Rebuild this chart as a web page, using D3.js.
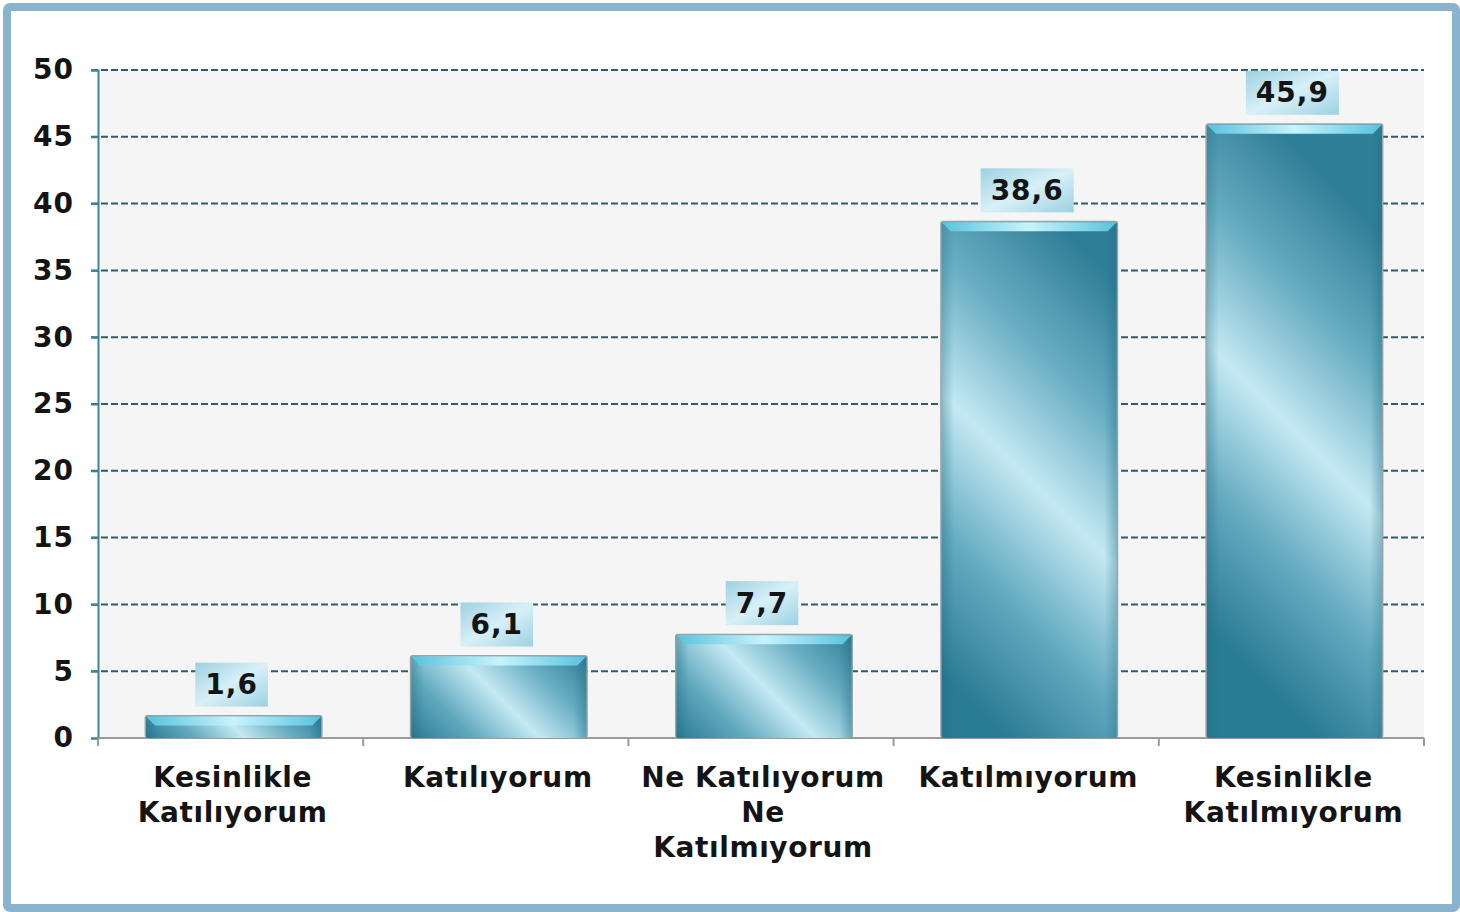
<!DOCTYPE html>
<html>
<head>
<meta charset="utf-8">
<script src="https://cdn.jsdelivr.net/npm/d3@7"></script>
<style>
  html, body { margin: 0; padding: 0; background: #fff; }
  svg { display: block; }
  text { font-family: 'DejaVu Sans', Verdana, sans-serif; font-weight: bold; fill: #141414; }
</style>
</head>
<body>
<div id="chart"></div>
<script>
// data
const categories = [
  ['Kesinlikle', 'Katılıyorum'],
  ['Katılıyorum'],
  ['Ne Katılıyorum', 'Ne', 'Katılmıyorum'],
  ['Katılmıyorum'],
  ['Kesinlikle', 'Katılmıyorum']
]
const values = [1.6, 6.1, 7.7, 38.6, 45.9]
const yTicks = [0, 5, 10, 15, 20, 25, 30, 35, 40, 45, 50]

const W = 1460, H = 912
const m = {left: 98, right: 1424, top: 70, bottom: 738}

const svg = d3.select('#chart').append('svg')
  .attr('width', W)
  .attr('height', H)

let defs = svg.append('defs')

let side = defs.append('linearGradient').attr('id', 'sideGrad')
  .attr('x1', '0%').attr('x2', '100%')
side.append('stop').attr('offset', '0%').attr('stop-color', '#1f6b80').attr('stop-opacity', 0.35)
side.append('stop').attr('offset', '7%').attr('stop-color', '#1f6b80').attr('stop-opacity', 0)
side.append('stop').attr('offset', '93%').attr('stop-color', '#1f6b80').attr('stop-opacity', 0)
side.append('stop').attr('offset', '100%').attr('stop-color', '#1f6b80').attr('stop-opacity', 0.35)

let bevel = defs.append('linearGradient').attr('id', 'topGrad')
  .attr('x1', '0%').attr('x2', '100%')
bevel.append('stop').attr('offset', '0%').attr('stop-color', '#58c3de')
bevel.append('stop').attr('offset', '50%').attr('stop-color', '#c8f3fd')
bevel.append('stop').attr('offset', '100%').attr('stop-color', '#58c3de')

let lab = defs.append('linearGradient').attr('id', 'labGrad')
  .attr('x1', '0%').attr('y1', '0%').attr('x2', '100%').attr('y2', '100%')
lab.append('stop').attr('offset', '0%').attr('stop-color', '#9dd1e2')
lab.append('stop').attr('offset', '50%').attr('stop-color', '#d8f0f7')
lab.append('stop').attr('offset', '100%').attr('stop-color', '#9dd1e2')

// outer frame
svg.append('rect')
  .attr('x', 7).attr('y', 7).attr('width', W - 11).attr('height', H - 11)
  .attr('rx', 3)
  .attr('fill', '#fff').attr('stroke', '#8ab3cf').attr('stroke-width', 8)

let x = d3.scaleBand().domain(d3.range(categories.length)).range([m.left, m.right])
let y = d3.scaleLinear().domain([0, 50]).range([m.bottom, m.top])

// plot bg
svg.append('rect')
  .attr('x', m.left).attr('y', m.top)
  .attr('width', m.right - m.left).attr('height', m.bottom - m.top)
  .attr('fill', '#f5f5f5')

// grid
svg.append('g').selectAll('line')
  .data(yTicks.filter(d => d > 0))
  .enter().append('line')
  .attr('x1', m.left - 7).attr('x2', m.right)
  .attr('y1', d => y(d)).attr('y2', d => y(d))
  .attr('stroke', '#2d5d6c').attr('stroke-width', 2)
  .attr('stroke-dasharray', '7,3')

// y axis
let yAxis = svg.append('g')
  .attr('transform', `translate(${m.left},0)`)
  .call(d3.axisLeft(y).tickValues(yTicks).tickSize(7).tickPadding(17))
yAxis.select('.domain').attr('stroke', '#3a8597').attr('stroke-width', 2)
yAxis.selectAll('.tick line').attr('stroke', '#3a8597').attr('stroke-width', 2)
yAxis.selectAll('text')
  .attr('font-size', 28)
  .attr('letter-spacing', 1)
  .attr('font-family', "'DejaVu Sans', Verdana, sans-serif")
  .attr('font-weight', 'bold')
  .attr('fill', '#141414')

// x axis
let xAxisG = svg.append('g')
xAxisG.append('line')
  .attr('x1', m.left).attr('x2', m.right)
  .attr('y1', m.bottom).attr('y2', m.bottom)
  .attr('stroke', '#9a9a9a').attr('stroke-width', 2)
xAxisG.selectAll('.xt')
  .data(d3.range(categories.length + 1))
  .enter().append('line')
  .attr('x1', d => m.left + d * x.step()).attr('x2', d => m.left + d * x.step())
  .attr('y1', m.bottom).attr('y2', m.bottom + 8)
  .attr('stroke', '#9a9a9a').attr('stroke-width', 2)

let bw = x.bandwidth() * 0.66
let bx = i => x(i) + (x.bandwidth() - bw) / 2 + 3

// one diagonal gradient per bar, 45 degrees in user space
values.forEach((d, i) => {
  let x0 = bx(i), y0 = y(d), h = m.bottom - y0
  let cx = x0 + bw / 2, cy = y0 + h / 2
  let L = Math.min(200, (bw + h) / 2 / Math.SQRT2)
  let k = L / Math.SQRT2
  let g = defs.append('linearGradient').attr('id', 'barGrad' + i)
    .attr('gradientUnits', 'userSpaceOnUse')
    .attr('x1', cx - k).attr('y1', cy + k)
    .attr('x2', cx + k).attr('y2', cy - k)
  g.append('stop').attr('offset', '0%').attr('stop-color', '#2a7b94')
  g.append('stop').attr('offset', '25%').attr('stop-color', '#62a9bf')
  g.append('stop').attr('offset', '50%').attr('stop-color', '#c4e9f3')
  g.append('stop').attr('offset', '75%').attr('stop-color', '#68adc2')
  g.append('stop').attr('offset', '100%').attr('stop-color', '#307f98')
})

let bars = svg.append('g').selectAll('.bar')
  .data(values)
  .enter().append('g')
  .attr('class', 'bar')

bars.append('rect')
  .attr('x', (d, i) => bx(i) - 1.5)
  .attr('y', d => y(d) - 1.5)
  .attr('width', bw + 3)
  .attr('height', d => m.bottom - y(d) + 1.5)
  .attr('rx', 3)
  .attr('fill', '#98a4a8')
bars.append('rect')
  .attr('x', (d, i) => bx(i))
  .attr('y', d => y(d))
  .attr('width', bw)
  .attr('height', d => m.bottom - y(d))
  .attr('rx', 2)
  .attr('fill', (d, i) => `url(#barGrad${i})`)
bars.append('rect')
  .attr('x', (d, i) => bx(i))
  .attr('y', d => y(d))
  .attr('width', bw)
  .attr('height', d => m.bottom - y(d))
  .attr('fill', 'url(#sideGrad)')
bars.append('path')
  .attr('d', (d, i) => {
    let x0 = bx(i), y0 = y(d)
    let h = Math.min(9, (m.bottom - y0) * 0.5)
    return `M${x0},${y0}L${x0 + bw},${y0}L${x0 + bw - h},${y0 + h}L${x0 + h},${y0 + h}Z`
  })
  .attr('fill', 'url(#topGrad)')

// value labels
bars.each(function (d, i) {
  let g = d3.select(this)
  let cx = x(i) + x.bandwidth() / 2 + 1
  let t = g.append('text')
    .attr('x', cx).attr('y', y(d) - 32)
    .attr('text-anchor', 'middle')
    .attr('dominant-baseline', 'central')
    .attr('font-size', 28)
    .attr('letter-spacing', 1)
    .text(String(d).replace('.', ','))
  let tw = t.node().getComputedTextLength()
  g.insert('rect', 'text')
    .attr('x', cx - tw / 2 - 10).attr('y', y(d) - 54)
    .attr('width', tw + 20).attr('height', 44)
    .attr('fill', 'url(#labGrad)')
})

// category labels
svg.append('g').selectAll('.cat')
  .data(categories)
  .enter().append('text')
  .attr('class', 'cat')
  .attr('text-anchor', 'middle')
  .attr('font-size', 28)
  .attr('letter-spacing', 0.6)
  .each(function (d, i) {
    let cx = x(i) + x.bandwidth() / 2 + 2
    d3.select(this).selectAll('tspan')
      .data(d)
      .enter().append('tspan')
      .attr('x', cx)
      .attr('y', (l, j) => 787 + j * 35)
      .text(l => l)
  })
</script>
</body>
</html>
